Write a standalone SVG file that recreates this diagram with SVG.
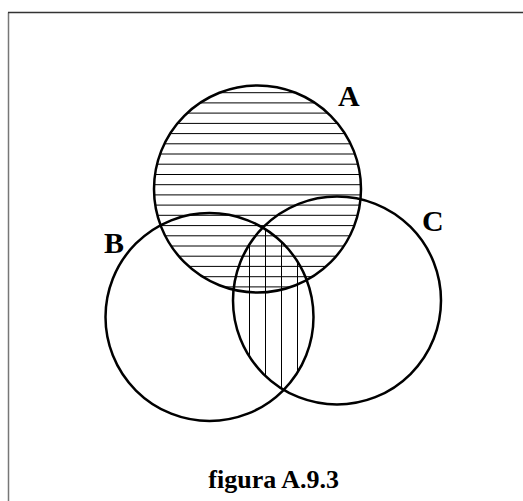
<svg xmlns="http://www.w3.org/2000/svg" width="523" height="501" viewBox="0 0 523 501">
<style>
.circ{fill:none;stroke:#000;stroke-width:2.5}
.hatch{stroke:#000;stroke-width:1}
.lbl{font-family:"Liberation Serif","Times New Roman",serif;font-weight:bold;fill:#000}
</style>
<defs>
<clipPath id="clipA"><circle cx="257.5" cy="189" r="103.5"/></clipPath>
<clipPath id="clipC"><circle cx="337" cy="300.5" r="104"/></clipPath>
<clipPath id="clipBC" clip-path="url(#clipC)"><circle cx="209.5" cy="317" r="104"/></clipPath>
</defs>
<rect width="523" height="501" fill="#fff"/>
<path d="M8.5,501 V12.5" fill="none" stroke="#777" stroke-width="1.5"/>
<path d="M8,12.5 H523" fill="none" stroke="#333" stroke-width="1.3"/>
<g id="hatch-A" clip-path="url(#clipA)">
<path class="hatch" d="M150,92.7H365M150,102.9H365M150,113.1H365M150,123.4H365M150,133.6H365M150,143.8H365M150,154H365M150,164.2H365M150,174.5H365M150,184.7H365M150,194.9H365M150,205.1H365M150,215.3H365M150,225.6H365M150,235.8H365M150,246H365M150,256.2H365M150,266.4H365M150,276.7H365M150,286.9H365"/>
</g>
<g id="hatch-BC" clip-path="url(#clipBC)">
<path class="hatch" d="M233.5,200V420M249.5,200V420M265.5,200V420M281.5,200V420M297.5,200V420M313.5,200V420"/>
</g>
<g id="circle-A"><circle class="circ" cx="257.5" cy="189" r="103.5"/><text class="lbl" x="338" y="106" font-size="30">A</text></g>
<g id="circle-B"><circle class="circ" cx="209.5" cy="317" r="104"/><text class="lbl" x="104" y="252.5" font-size="30">B</text></g>
<g id="circle-C"><circle class="circ" cx="337" cy="300.5" r="104"/><text class="lbl" x="422" y="231" font-size="30">C</text></g>
<text class="lbl" x="273.7" y="488" font-size="26" text-anchor="middle">figura A.9.3</text>
</svg>
